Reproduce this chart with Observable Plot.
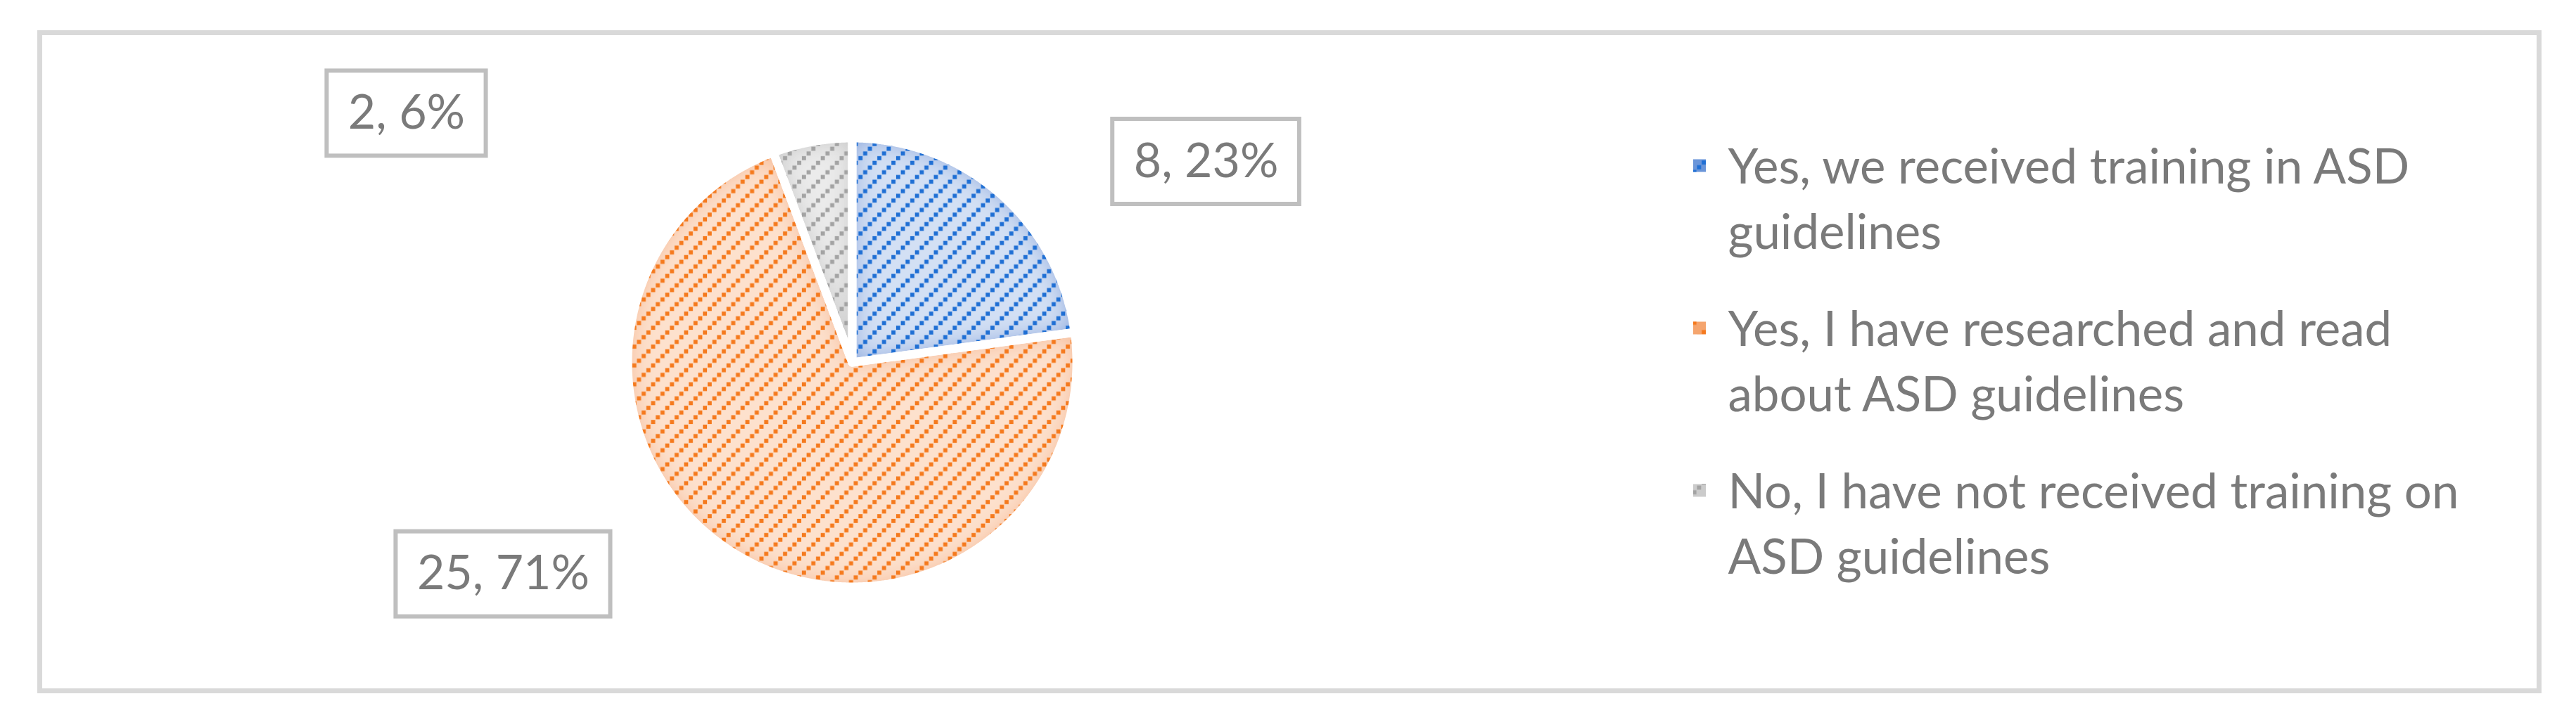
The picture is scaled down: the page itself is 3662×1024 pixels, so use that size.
<!DOCTYPE html>
<html>
<head>
<meta charset="utf-8">
<script src="https://cdn.jsdelivr.net/npm/d3@7"></script>
<script src="https://cdn.jsdelivr.net/npm/@observablehq/plot@0.6"></script>
<style>
  html, body { margin: 0; padding: 0; background: #ffffff; }
  #chart svg { display: block; }
</style>
</head>
<body>
<div id="chart"></div>
<script>
// ---------------- data ----------------
const categories = [
  "Yes, we received training in ASD guidelines",
  "Yes, I have researched and read about ASD guidelines",
  "No, I have not received training on ASD guidelines"
];
const counts = [8, 25, 2];

// ---------------- styling / layout ----------------
const W = 3662, H = 1024;
const FONT = "Lato";
const FS_LABEL = 68;
const FS_LEGEND = 69;
const TEXT_COLOR = "#7a7a7a";
const baseColors   = ["#d3e0f4", "#fde1cd", "#ebebeb"];
const glowColors   = ["#6f97d8", "#f4ad7f", "#bdbdbd"];
const dotColors    = ["#1f6fd4", "#f57a1e", "#a3a3a3"];
const markerColors = ["#6a95d9", "#f5a56e", "#cbcbcb"];
const PX = 6.7;   // size of one pattern pixel
const pie = {cx: 1211, cy: 515, r: 319, gap: 12};
// label box centers, in pie-radius units from the pie center
const labelOffsets = [[1.577, -0.895], [-1.555, 0.944], [-1.986, -1.110]];
const labelBox = {padX: 30, height: 121, stroke: "#bfbfbf", strokeWidth: 6};
const frameBox = {x1: 56.5, y1: 46.5, x2: 3609.5, y2: 982.5};
const legend = {markerX: 2416, textX: 2456, centerY: 508, step: 231, lineHeightPx: 93, marker: 18, wrapWidth: 1060};

// ---------------- derived ----------------
const total = d3.sum(counts);
const arcs = d3.pie().sort(null).value(d => d)(counts);

function slicePoints(a) {
  const pts = [{x: pie.cx, y: pie.cy}];
  const n = Math.max(8, Math.ceil((a.endAngle - a.startAngle) / 0.004));
  for (let k = 0; k <= n; k++) {
    const t = a.startAngle + (a.endAngle - a.startAngle) * k / n;
    pts.push({x: pie.cx + pie.r * Math.sin(t), y: pie.cy - pie.r * Math.cos(t)});
  }
  pts.push({x: pie.cx, y: pie.cy});
  return pts;
}
const slices = arcs.map(slicePoints);

const canvas = document.createElement("canvas");
const ctx = canvas.getContext("2d");

function wrap(text, fs, maxWidth) {
  ctx.font = `${fs}px ${FONT}`;
  const words = text.split(" ");
  const lines = [];
  let cur = "";
  for (const w of words) {
    const t = cur ? cur + " " + w : w;
    if (cur && ctx.measureText(t).width > maxWidth) { lines.push(cur); cur = w; }
    else cur = t;
  }
  if (cur) lines.push(cur);
  return lines.join("\n");
}

const labels = counts.map((v, i) => {
  const text = `${v}, ${Math.round(v / total * 100)}%`;
  ctx.font = `${FS_LABEL}px ${FONT}`;
  const w = ctx.measureText(text).width;
  const cx = pie.cx + labelOffsets[i][0] * pie.r;
  const cy = pie.cy + labelOffsets[i][1] * pie.r;
  return {text, x: cx, y: cy,
    x1: cx - w / 2 - labelBox.padX, x2: cx + w / 2 + labelBox.padX,
    y1: cy - labelBox.height / 2, y2: cy + labelBox.height / 2};
});

const legendItems = categories.map((c, i) => {
  const cy = legend.centerY + (i - 1) * legend.step;
  const firstLineY = cy - legend.lineHeightPx / 2;
  return {label: wrap(c, FS_LEGEND, legend.wrapWidth), i, tx: legend.textX, ty: cy,
    x1: legend.markerX - legend.marker / 2, x2: legend.markerX + legend.marker / 2,
    y1: firstLineY - legend.marker / 2 + 5, y2: firstLineY + legend.marker / 2 + 5};
});

// ---------------- plot ----------------
const marks = [
  Plot.rect([frameBox], {x1: "x1", x2: "x2", y1: "y1", y2: "y2", fill: "none", stroke: "#d9d9d9", strokeWidth: 7}),
  ...slices.map((pts, i) => Plot.line(pts, {x: "x", y: "y", fill: baseColors[i], stroke: "none"})),
  ...slices.map((pts, i) => Plot.line(pts, {x: "x", y: "y", fill: `url(#dots${i})`, stroke: "none"})),
  ...slices.map((pts) => Plot.line(pts, {x: "x", y: "y", fill: "none", stroke: "white", strokeWidth: pie.gap})),
  Plot.rect(labels, {x1: "x1", x2: "x2", y1: "y1", y2: "y2", fill: "white", stroke: labelBox.stroke, strokeWidth: labelBox.strokeWidth}),
  Plot.text(labels, {x: "x", y: "y", text: "text", fontSize: FS_LABEL, fontFamily: FONT, fill: TEXT_COLOR}),
  ...legendItems.map(d => Plot.rect([d], {x1: "x1", x2: "x2", y1: "y1", y2: "y2", fill: markerColors[d.i]})),
  ...legendItems.map(d => Plot.rect([d], {x1: "x1", x2: "x2", y1: "y1", y2: "y2", fill: `url(#dots${d.i})`})),
  Plot.text(legendItems, {x: "tx", y: "ty", text: "label", textAnchor: "start",
    lineHeight: legend.lineHeightPx / FS_LEGEND, fontSize: FS_LEGEND, fontFamily: FONT, fill: TEXT_COLOR})
];

const svg = Plot.plot({
  width: W, height: H,
  margin: 0,
  x: {domain: [0, W], range: [0, W], axis: null},
  y: {domain: [0, H], range: [0, H], axis: null},
  style: {background: "#ffffff", fontFamily: FONT},
  marks
});

// patterns (light upward diagonal, one pattern pixel = PX) & edge shading filters
const sel = d3.select(svg);
const defs = sel.insert("defs", ":first-child");
dotColors.forEach((c, i) => {
  const p = defs.append("pattern").attr("id", `dots${i}`).attr("patternUnits", "userSpaceOnUse")
    .attr("width", 4 * PX).attr("height", 4 * PX);
  for (let k = 0; k < 4; k++) {
    p.append("rect").attr("x", k * PX + 0.4).attr("y", (3 - k) * PX + 0.4)
      .attr("width", PX - 0.8).attr("height", PX - 0.8).attr("fill", c);
  }
  const f = defs.append("filter").attr("id", `glow${i}`)
    .attr("x", "-10%").attr("y", "-10%").attr("width", "120%").attr("height", "120%");
  f.append("feGaussianBlur").attr("in", "SourceAlpha").attr("stdDeviation", 18).attr("result", "b");
  f.append("feComposite").attr("in", "SourceAlpha").attr("in2", "b").attr("operator", "arithmetic")
    .attr("k2", 1).attr("k3", -1).attr("result", "edge");
  f.append("feFlood").attr("flood-color", glowColors[i]).attr("flood-opacity", 1).attr("result", "c");
  f.append("feComposite").attr("in", "c").attr("in2", "edge").attr("operator", "in").attr("result", "g");
  const mg = f.append("feMerge");
  mg.append("feMergeNode").attr("in", "SourceGraphic");
  mg.append("feMergeNode").attr("in", "g");
});
const lineGroups = svg.querySelectorAll('g[aria-label="line"]');
for (let i = 0; i < 3; i++) {
  d3.select(lineGroups[i]).selectAll("path").attr("filter", `url(#glow${i})`);
}

document.getElementById("chart").appendChild(svg);
</script>
</body>
</html>
